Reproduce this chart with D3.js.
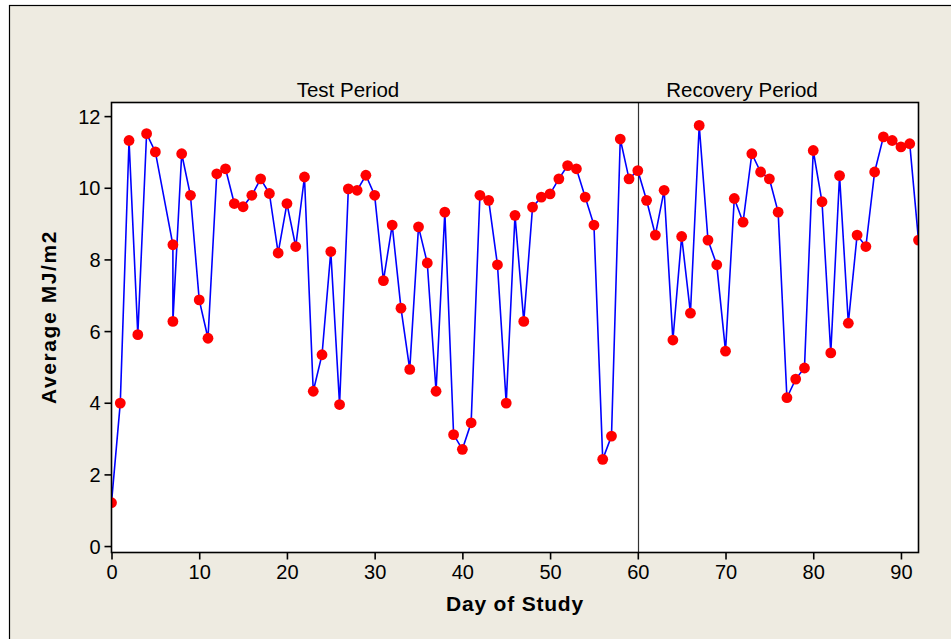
<!DOCTYPE html>
<html lang="en">
<head>
  <meta charset="utf-8">
  <title>Average MJ/m2 by Day of Study</title>
  <script src="https://d3js.org/d3.v7.min.js"></script>
  <style>
    body { margin: 0; background: #ffffff; }
    text { font-family: "Liberation Sans", Arial, sans-serif; fill: #000; }
  </style>
</head>
<body>
<script type="text/javascript">

  var days = [0, 1, 2, 3, 4, 5, 7, 7, 8, 9, 10, 11, 12, 13, 14, 15, 16, 17, 18, 19,
              20, 21, 22, 23, 24, 25, 26, 27, 28, 29, 30, 31, 32, 33, 34, 35, 36, 37, 38, 39,
              40, 41, 42, 43, 44, 45, 46, 47, 48, 49, 50, 51, 52, 53, 54, 55, 56, 57, 58, 59,
              60, 61, 62, 63, 64, 65, 66, 67, 68, 69, 70, 71, 72, 73, 74, 75, 76, 77, 78, 79,
              80, 81, 82, 83, 84, 85, 86, 87, 88, 89, 90, 91, 92];
  var mj = [1.21, 3.99, 11.32, 5.90, 11.51, 11.00, 8.41, 6.27, 10.95, 9.79, 6.87, 5.80, 10.39, 10.53, 9.56, 9.47, 9.79, 10.25, 9.84, 8.18,
            9.56, 8.36, 10.30, 4.32, 5.34, 8.22, 3.95, 9.97, 9.93, 10.35, 9.79, 7.41, 8.96, 6.64, 4.93, 8.91, 7.90, 4.32, 9.32, 3.11,
            2.70, 3.44, 9.79, 9.65, 7.85, 3.99, 9.23, 6.27, 9.46, 9.74, 9.83, 10.25, 10.62, 10.53, 9.74, 8.96, 2.42, 3.07, 11.36, 10.25,
            10.48, 9.65, 8.68, 9.93, 5.75, 8.64, 6.50, 11.74, 8.54, 7.85, 5.44, 9.70, 9.04, 10.95, 10.44, 10.25, 9.32, 4.14, 4.66, 4.97,
            11.04, 9.61, 5.39, 10.34, 6.22, 8.68, 8.36, 10.44, 11.42, 11.32, 11.14, 11.23, 8.54];
  var xTicks = [0, 10, 20, 30, 40, 50, 60, 70, 80, 90];
  var yTicks = [0, 2, 4, 6, 8, 10, 12];
  var periods = ["Test Period", "Recovery Period"];
  var periodSplit = 60;

  var dataset = days.map(function(d, i) { return { day: d, value: mj[i] }; });

  var svg_width = 951;
  var svg_height = 639;
  var plot = { left: 111.5, top: 102.5, right: 918.5, bottom: 552.5 };

  var svg = d3.select("body")
              .append("svg")
              .attr("width", svg_width)
              .attr("height", svg_height);

  // beige frame
  svg.append("rect")
     .attr("x", 9.5).attr("y", 5.5)
     .attr("width", svg_width + 10).attr("height", svg_height + 10)
     .attr("fill", "#eeebe1")
     .attr("stroke", "#000")
     .attr("stroke-width", 1.2);

  var xScale = d3.scaleLinear()
                 .domain([0, 92])
                 .range([plot.left, plot.right]);

  var yScale = d3.scaleLinear()
                 .domain([-0.18, 12.38])
                 .range([plot.bottom, plot.top]);

  // plot panel
  svg.append("rect")
     .attr("x", plot.left).attr("y", plot.top)
     .attr("width", plot.right - plot.left)
     .attr("height", plot.bottom - plot.top)
     .attr("fill", "#ffffff");

  svg.append("clipPath").attr("id", "clip")
     .append("rect")
     .attr("x", plot.left).attr("y", plot.top)
     .attr("width", plot.right - plot.left)
     .attr("height", plot.bottom - plot.top);

  // period divider
  svg.append("line")
     .attr("x1", Math.round(xScale(periodSplit)) + 0.5)
     .attr("x2", Math.round(xScale(periodSplit)) + 0.5)
     .attr("y1", plot.top).attr("y2", plot.bottom)
     .attr("stroke", "#333")
     .attr("stroke-width", 1.2);

  // period titles
  var titleX = [348, 742];
  svg.selectAll("text.period")
     .data(periods)
     .enter()
       .append("text")
       .attr("class", "period")
       .attr("x", function(d, i) { return titleX[i]; })
       .attr("y", 97)
       .attr("text-anchor", "middle")
       .attr("font-size", "20.5px")
       .text(function(d) { return d; });

  var g = svg.append("g").attr("clip-path", "url(#clip)");

  var line = d3.line()
               .x(function(d) { return xScale(d.day); })
               .y(function(d) { return yScale(d.value); });

  g.append("path")
   .datum(dataset)
   .attr("d", line)
   .attr("fill", "none")
   .attr("stroke", "#0000ff")
   .attr("stroke-width", 1.6);

  g.selectAll("circle")
   .data(dataset)
   .enter()
     .append("circle")
     .attr("cx", function(d) { return xScale(d.day); })
     .attr("cy", function(d) { return yScale(d.value); })
     .attr("r", 5.4)
     .attr("fill", "#ff0000");

  // panel border
  svg.append("rect")
     .attr("x", plot.left).attr("y", plot.top)
     .attr("width", plot.right - plot.left)
     .attr("height", plot.bottom - plot.top)
     .attr("fill", "none")
     .attr("stroke", "#000")
     .attr("stroke-width", 1.6);

  // axes
  var xAxis = svg.append("g")
     .attr("transform", "translate(0," + plot.bottom + ")")
     .call(d3.axisBottom(xScale).tickValues(xTicks).tickSize(7).tickPadding(5));

  var yAxis = svg.append("g")
     .attr("transform", "translate(" + plot.left + ",0)")
     .call(d3.axisLeft(yScale).tickValues(yTicks).tickSize(7).tickPadding(4));

  [xAxis, yAxis].forEach(function(ax) {
    ax.select(".domain").remove();
    ax.selectAll(".tick line").attr("stroke", "#000").attr("stroke-width", 1.6);
    ax.selectAll(".tick text")
      .attr("font-family", "Liberation Sans, Arial, sans-serif")
      .attr("font-size", "20px")
      .attr("fill", "#000");
  });
  yAxis.selectAll(".tick text").attr("dy", "0.36em");

  // axis titles
  svg.append("text")
     .attr("x", (plot.left + plot.right) / 2)
     .attr("y", 611)
     .attr("text-anchor", "middle")
     .attr("font-size", "21px")
     .attr("font-weight", "bold")
     .attr("letter-spacing", "0.8px")
     .text("Day of Study");

  svg.append("text")
     .attr("transform", "translate(56,317) rotate(-90)")
     .attr("text-anchor", "middle")
     .attr("font-size", "21px")
     .attr("font-weight", "bold")
     .attr("letter-spacing", "1.6px")
     .text("Average MJ/m2");

</script>
</body>
</html>
